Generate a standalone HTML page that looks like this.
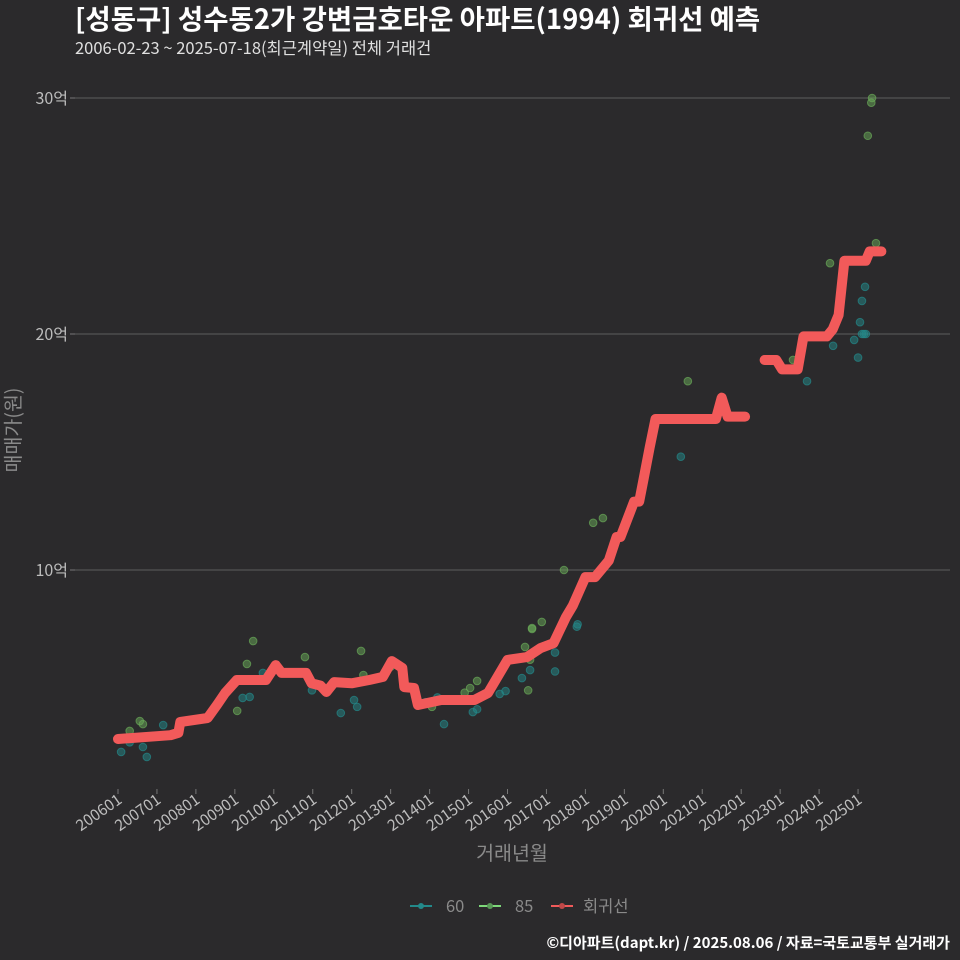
<!DOCTYPE html>
<html><head><meta charset="utf-8"><style>
body{margin:0;background:#2b2a2c;}
svg{display:block;font-family:"Noto Sans CJK KR","Liberation Sans",sans-serif;}
</style></head><body>
<svg id="c" width="960" height="960" viewBox="0 0 960 960">
<rect width="960" height="960" fill="#2b2a2c"/>
<text x="75" y="29" fill="#ffffff" font-size="27.5" font-weight="bold">[성동구] 성수동2가 강변금호타운 아파트(1994) 회귀선 예측</text>
<text x="75" y="54" fill="#e0e0e0" font-size="16.5">2006-02-23 ~ 2025-07-18(최근계약일) 전체 거래건</text>
<text transform="translate(20,430) rotate(-90)" text-anchor="middle" fill="#8a8a8a" font-size="19.5">매매가(원)</text>
<text x="512" y="860" text-anchor="middle" fill="#8a8a8a" font-size="19.5">거래년월</text>
<g id="grid"></g><g id="pts"></g><g id="reg"></g><g id="xt"></g>
<g>
<g><line x1="410" y1="906" x2="432" y2="906" stroke="#23898a" stroke-width="2"/><circle cx="421" cy="906" r="3" fill="#23898a"/><text x="446" y="912" fill="#8a8a8a" font-size="16.5">60</text></g>
<g><line x1="479" y1="906" x2="501" y2="906" stroke="#7dd87a" stroke-width="2"/><circle cx="490" cy="906" r="3" fill="#5a9a58"/><text x="515" y="912" fill="#8a8a8a" font-size="16.5">85</text></g>
<g><line x1="551" y1="906" x2="573" y2="906" stroke="#f05a5a" stroke-width="2"/><circle cx="562" cy="906" r="3" fill="#c04848"/><text x="583" y="912" fill="#8a8a8a" font-size="16.5">회귀선</text></g>
</g>
<text x="950" y="948" text-anchor="end" fill="#ffffff" font-size="15" font-weight="bold">©디아파트(dapt.kr) / 2025.08.06 / 자료=국토교통부 실거래가</text>
</svg>
<script>
const yTicks=[10,20,30];
const yTickLabels=["10억","20억","30억"];
const xTickYears=[2006,2007,2008,2009,2010,2011,2012,2013,2014,2015,2016,2017,2018,2019,2020,2021,2022,2023,2024,2025];
const xTickLabels=["200601","200701","200801","200901","201001","201101","201201","201301","201401","201501","201601","201701","201801","201901","202001","202101","202201","202301","202401","202501"];
const regT1=[2006.0,2007.35,2007.55,2007.6,2008.3,2008.55,2008.75,2009.05,2009.8,2010.05,2010.2,2010.83,2010.97,2011.2,2011.35,2011.55,2012.0,2012.45,2012.8,2013.03,2013.3,2013.35,2013.6,2013.7,2014.3,2015.15,2015.5,2016.0,2016.5,2016.85,2017.18,2017.5,2017.68,2018.0,2018.25,2018.6,2018.8,2018.9,2019.25,2019.38,2019.5,2019.65,2019.8,2020.15,2021.35,2021.5,2021.65,2022.1];
const regV1=[2.84,3.0,3.1,3.56,3.73,4.3,4.79,5.34,5.34,5.97,5.64,5.64,5.2,5.1,4.83,5.25,5.2,5.34,5.47,6.14,5.85,5.04,5.0,4.28,4.49,4.49,4.79,6.19,6.31,6.69,6.9,8.0,8.5,9.7,9.7,10.4,11.4,11.4,12.9,12.9,13.9,15.2,16.4,16.4,16.4,17.3,16.5,16.5];
const regT2=[2022.6,2022.9,2023.05,2023.45,2023.6,2024.2,2024.35,2024.5,2024.65,2025.2,2025.3,2025.6];
const regV2=[18.9,18.9,18.5,18.5,19.9,19.9,20.2,20.8,23.1,23.1,23.5,23.5];
const s60T=[2006.08,2006.74,2006.64,2007.16,2009.2,2009.38,2009.72,2010.98,2011.72,2012.06,2012.14,2014.37,2015.11,2015.22,2015.8,2015.95,2016.37,2016.58,2017.22,2017.22,2017.78,2017.8,2020.45,2023.69,2024.36,2025.0,2025.1,2025.18,2025.05,2025.1,2025.15,2025.2,2024.9,2006.3,2013.9,2014.2];
const s60V=[2.29,2.08,2.5,3.43,4.58,4.62,5.64,4.9,3.94,4.49,4.2,3.47,3.98,4.1,4.75,4.87,5.42,5.76,6.5,5.7,7.6,7.7,14.8,18.0,19.5,19.0,20.0,22.0,20.5,21.4,20.0,20.0,19.75,2.7,4.4,4.6];
const s85T=[2006.56,2006.64,2006.3,2009.47,2009.31,2009.06,2010.8,2012.24,2012.3,2015.22,2015.04,2016.63,2016.45,2016.53,2014.06,2020.63,2018.2,2018.45,2017.45,2016.63,2016.88,2016.58,2024.28,2025.36,2025.34,2025.25,2025.46,2023.33,2014.9,2013.0];
const s85V=[3.6,3.47,3.18,6.99,6.02,4.03,6.31,6.57,5.55,5.3,5.0,7.54,6.74,4.9,4.2,18.0,12.0,12.2,10.0,7.5,7.8,6.2,23.0,30.0,29.8,28.4,23.85,18.9,4.8,5.9];
const NS="http://www.w3.org/2000/svg";
const X0=75,X1=950,YB=789;
function xs(t){return 118+(t-2006)*38.95;}
function ys(v){return 806-v*23.6;}
function mk(tag,attrs,parent){const e=document.createElementNS(NS,tag);for(const k in attrs)e.setAttribute(k,attrs[k]);parent.appendChild(e);return e;}
const grid=document.getElementById('grid');
yTicks.forEach((v,i)=>{
 const l=mk('line',{x1:X0,x2:X1,y1:ys(v),y2:ys(v),stroke:'#5e5e5e','stroke-width':1},grid);
 
 
 const tk=mk('line',{x1:X0-5,x2:X0,y1:ys(v),y2:ys(v),stroke:'#777'},grid);
 
 
 const t=mk('text',{x:X0-7,y:ys(v)+6,'text-anchor':'end',fill:'#bdbdbd','font-size':16},grid);
 t.textContent=yTickLabels[i];
 
 
});
const xt=document.getElementById('xt');
xTickYears.forEach((y,i)=>{
 const x=xs(y);
 const tk=mk('line',{x1:x,x2:x,y1:YB,y2:YB+5,stroke:'#777'},xt);
 
 
 const t=mk('text',{transform:`translate(${x+5},${YB+13}) rotate(-35)`,'text-anchor':'end',fill:'#bdbdbd','font-size':15.5},xt);
 t.textContent=xTickLabels[i];
 
 
});
const pts=document.getElementById('pts');
function scatter(T,V,col,name){T.forEach((t,i)=>{
 const c=mk('circle',{cx:xs(t),cy:ys(V[i]),r:3.8,fill:col,'fill-opacity':0.5,stroke:col,'stroke-opacity':0.7},pts);
 
 
});}
scatter(s60T,s60V,'#23898a','point-60');
scatter(s85T,s85V,'#6aaa58','point-85');
const reg=document.getElementById('reg');
function line(T,V){
 const d=T.map((t,i)=>(i?'L':'M')+xs(t).toFixed(1)+','+ys(V[i]).toFixed(1)).join(' ');
 const p=mk('path',{d:d,fill:'none',stroke:'#f25a5a','stroke-width':10,'stroke-linecap':'round','stroke-linejoin':'round'},reg);
 
 
}
line(regT1,regV1);line(regT2,regV2);
</script>
</body></html>
